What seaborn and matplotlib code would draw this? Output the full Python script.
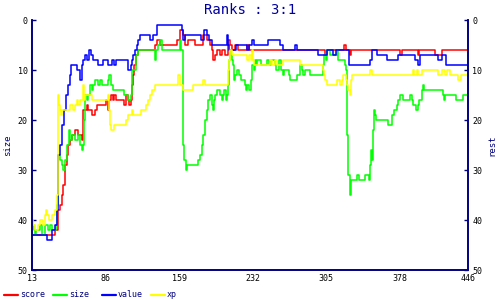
import matplotlib
matplotlib.use("Agg")
import matplotlib.pyplot as plt
from matplotlib.lines import Line2D
import seaborn as sns
import pandas as pd

title = "Ranks : 3:1"
x_ticks = [13, 86, 159, 232, 305, 378, 446]
y_ticks = [0, 10, 20, 30, 40, 50]
series_names = ["score", "size", "value", "xp"]
series_colors = ["#ff0000", "#00ff00", "#0000ff", "#ffff00"]

# step breakpoints (x, rank from x onward)
score_x = [13, 36, 39, 41, 43, 44, 46, 48, 49, 51, 53, 56, 59, 63, 64, 68, 69, 73, 76, 78, 86, 88, 89, 91, 93, 94, 96, 104, 106, 108, 109, 111, 112, 113, 114, 116, 118, 135, 137, 140, 157, 160, 163, 165, 168, 175, 178, 183, 187, 190, 192, 193, 195, 197, 200, 202, 205, 208, 210, 212, 215, 218, 227, 229, 304, 306, 323, 325, 329, 330, 378, 380, 396, 397, 413, 420, 446]
score_y = [43, 42, 38, 37, 35, 33, 29, 27, 25, 24, 23, 22, 23, 24, 18, 17, 18, 19, 18, 17, 16, 18, 16, 15, 16, 15, 16, 17, 15, 16, 17, 16, 13, 11, 9, 7, 6, 5, 4, 5, 4, 2, 3, 5, 4, 5, 5, 3, 4, 5, 6, 8, 7, 6, 7, 6, 7, 4, 5, 6, 5, 6, 5, 6, 7, 6, 5, 6, 7, 6, 7, 6, 7, 6, 7, 6, 6]

size_x = [13, 15, 16, 17, 21, 23, 26, 29, 31, 33, 37, 38, 39, 41, 43, 44, 46, 48, 50, 51, 53, 56, 59, 61, 63, 64, 65, 66, 68, 69, 71, 73, 74, 76, 79, 81, 83, 88, 89, 91, 93, 104, 108, 111, 112, 116, 118, 135, 136, 138, 140, 142, 160, 161, 163, 164, 166, 167, 178, 180, 182, 183, 185, 187, 188, 190, 192, 193, 194, 195, 197, 200, 202, 203, 204, 206, 207, 208, 209, 210, 211, 212, 213, 214, 215, 217, 219, 221, 225, 226, 227, 229, 230, 231, 233, 234, 235, 236, 240, 246, 248, 250, 254, 255, 258, 260, 262, 263, 268, 269, 276, 279, 281, 282, 284, 289, 302, 303, 305, 306, 309, 316, 317, 324, 325, 326, 327, 329, 330, 336, 338, 344, 348, 349, 350, 351, 352, 353, 354, 355, 367, 371, 373, 375, 376, 378, 381, 388, 390, 391, 394, 396, 397, 400, 401, 402, 421, 422, 423, 434, 441, 446]
size_y = [41, 42, 43, 42, 41, 43, 41, 42, 41, 42, 41, 37, 27, 28, 29, 30, 28, 25, 22, 24, 23, 24, 23, 25, 26, 25, 20, 15, 16, 15, 13, 14, 13, 12, 13, 12, 13, 12, 11, 13, 14, 15, 16, 15, 10, 7, 6, 8, 6, 5, 4, 6, 4, 6, 25, 28, 30, 29, 28, 27, 25, 23, 20, 18, 16, 15, 17, 18, 16, 15, 14, 15, 16, 15, 14, 16, 15, 13, 8, 6, 7, 8, 9, 12, 11, 10, 11, 12, 13, 14, 13, 14, 12, 9, 10, 8, 9, 8, 9, 8, 9, 8, 9, 10, 8, 10, 11, 10, 11, 12, 11, 9, 10, 11, 10, 11, 9, 7, 8, 6, 7, 6, 8, 9, 10, 23, 31, 35, 32, 31, 32, 31, 32, 29, 26, 28, 22, 18, 19, 20, 21, 19, 18, 17, 16, 15, 16, 15, 16, 17, 18, 17, 16, 14, 13, 14, 15, 16, 15, 16, 15, 15]

value_x = [13, 28, 33, 36, 38, 39, 41, 43, 45, 47, 49, 51, 52, 58, 61, 63, 64, 66, 68, 70, 72, 74, 79, 84, 88, 92, 94, 96, 108, 111, 112, 113, 115, 117, 118, 120, 130, 133, 137, 162, 163, 165, 181, 184, 187, 189, 192, 207, 208, 209, 216, 227, 229, 231, 233, 247, 259, 262, 274, 276, 297, 306, 312, 315, 328, 349, 351, 356, 366, 376, 393, 396, 398, 416, 420, 424, 446]
value_y = [43, 44, 42, 41, 38, 27, 25, 21, 18, 15, 13, 11, 9, 10, 12, 9, 8, 7, 8, 6, 7, 8, 9, 8, 9, 8, 9, 8, 10, 9, 8, 7, 6, 5, 4, 3, 4, 3, 1, 2, 4, 3, 4, 2, 3, 4, 5, 3, 5, 6, 5, 6, 5, 4, 5, 4, 5, 6, 5, 6, 7, 6, 7, 6, 9, 8, 6, 7, 8, 7, 8, 9, 7, 8, 7, 9, 9]

xp_x = [13, 14, 16, 19, 21, 24, 26, 27, 28, 30, 33, 36, 38, 39, 40, 41, 42, 43, 51, 54, 56, 58, 59, 61, 64, 65, 66, 73, 88, 89, 90, 91, 94, 106, 108, 112, 113, 121, 126, 128, 130, 132, 135, 158, 160, 163, 173, 183, 185, 208, 209, 210, 212, 227, 229, 230, 231, 232, 233, 249, 251, 254, 256, 262, 279, 302, 303, 304, 306, 316, 319, 321, 322, 325, 326, 327, 329, 330, 331, 349, 351, 391, 392, 395, 396, 400, 416, 420, 423, 425, 428, 436, 439, 446]
xp_y = [40, 41, 42, 41, 40, 41, 39, 38, 39, 40, 39, 38, 35, 15, 17, 18, 19, 18, 17, 18, 17, 16, 17, 16, 13, 16, 15, 16, 15, 18, 21, 22, 21, 20, 19, 18, 19, 18, 17, 16, 15, 14, 13, 11, 13, 14, 13, 12, 13, 10, 8, 6, 7, 8, 7, 8, 6, 8, 9, 8, 9, 8, 9, 8, 9, 10, 11, 12, 13, 12, 13, 12, 11, 12, 13, 14, 15, 12, 11, 10, 11, 10, 11, 10, 11, 10, 11, 10, 11, 10, 11, 12, 11, 11]

frames = []
for name, xs, ys in [("score", score_x, score_y), ("size", size_x, size_y),
                     ("value", value_x, value_y), ("xp", xp_x, xp_y)]:
    frames.append(pd.DataFrame({"x": xs, "rank": ys, "series": name}))
df = pd.concat(frames, ignore_index=True)

sns.set_style("white")
plt.rcParams["font.family"] = ["DejaVu Sans Mono", "DejaVu Sans"]

navy = "#000080"
fig = plt.figure(figsize=(5, 3), dpi=100)
ax = fig.add_axes([0.064, 0.1, 0.872, 0.8333])

for name, color in zip(series_names, series_colors):
    sns.lineplot(data=df[df["series"] == name], x="x", y="rank", color=color,
                 drawstyle="steps-post", linewidth=1.1, estimator=None,
                 sort=False, ax=ax, legend=False)

ax.set_xlim(13, 446)
ax.set_ylim(50, 0)
ax.set_xticks(x_ticks)
ax.set_xticklabels([str(t) for t in x_ticks])
ax.set_yticks(y_ticks)
ax.set_xlabel("")
ax.set_ylabel("size", color=navy, fontsize=6.5, labelpad=4)
ax.tick_params(axis="both", direction="in", length=3, width=1, color=navy,
               labelsize=6, labelcolor="black", pad=3)
for side in ["left", "bottom", "right"]:
    ax.spines[side].set_color(navy)
    ax.spines[side].set_linewidth(1.2)
ax.spines["top"].set_visible(False)

ax2 = ax.twinx()
ax2.set_ylim(50, 0)
ax2.set_yticks(y_ticks)
ax2.set_ylabel("rest", color=navy, fontsize=6.5, rotation=90, labelpad=4)
ax2.tick_params(axis="y", direction="in", length=3, width=1, color=navy,
                labelsize=6, labelcolor="black", pad=3)
for side in ["left", "bottom", "right"]:
    ax2.spines[side].set_color(navy)
    ax2.spines[side].set_linewidth(1.2)
ax2.spines["top"].set_visible(False)

fig.text(0.5, 0.965, title, ha="center", va="center", color="#0000a0", fontsize=10)

# legend
for i, (name, color) in enumerate(zip(series_names, series_colors)):
    x0 = (4 + 49 * i) / 500
    fig.add_artist(Line2D([x0, x0 + 14 / 500], [0.017, 0.017], color=color,
                          linewidth=1.6, transform=fig.transFigure))
    fig.text(x0 + 16 / 500, 0.017, name, ha="left", va="center", color=navy,
             fontsize=6)

fig.savefig("out.png", dpi=100)
